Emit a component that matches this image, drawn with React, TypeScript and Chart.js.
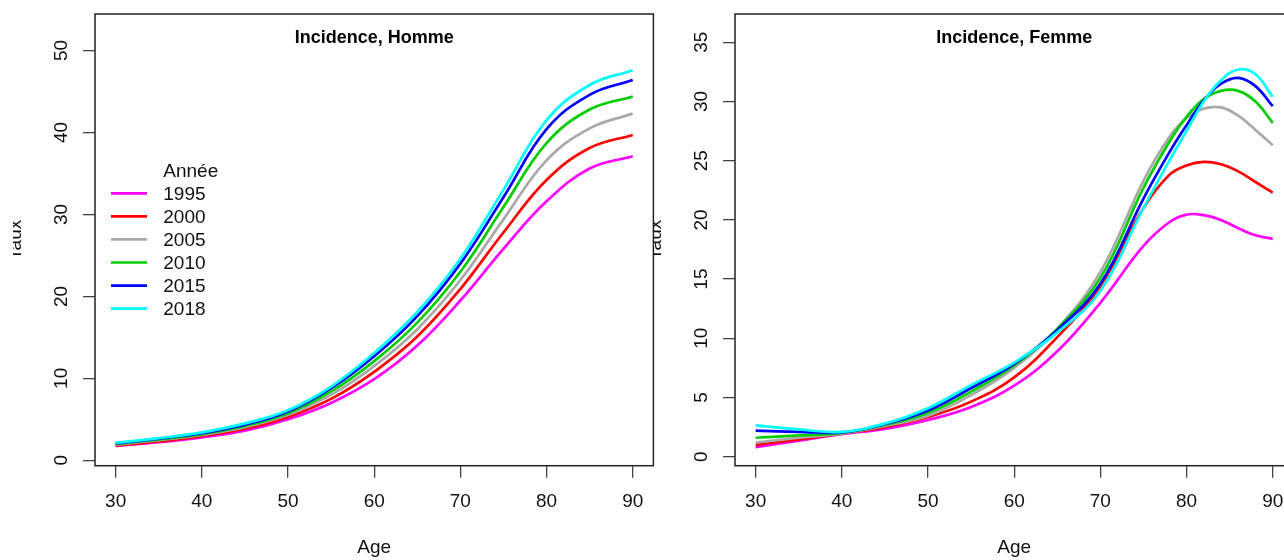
import React, { useEffect, useRef } from "react";
import { Chart, registerables } from "chart.js";

Chart.register(...registerables);

const FONT = '"Liberation Sans", Arial, Helvetica, sans-serif';

const YEARS = ["1995", "2000", "2005", "2010", "2015", "2018"];
const COLORS = ["#FF00FF", "#FF0000", "#A9A9A9", "#00CD00", "#0000FF", "#00FFFF"];

// Incidence, Homme
const AGES_H = [30, 35, 40, 45, 50, 55, 60, 65, 70, 75, 80, 85, 90];
const H_1995 = [1.75, 2.2, 2.8, 3.6, 5.0, 7.0, 9.9, 14.0, 19.5, 25.8, 31.6, 35.6, 37.1];
const H_2000 = [1.8, 2.3, 2.95, 3.85, 5.3, 7.5, 10.8, 15.1, 20.9, 27.8, 34.2, 38.1, 39.7];
const H_2005 = [1.9, 2.45, 3.1, 4.05, 5.55, 8.0, 11.5, 16.0, 22.0, 29.4, 36.6, 40.5, 42.3];
const H_2010 = [2.0, 2.55, 3.2, 4.2, 5.75, 8.4, 12.1, 16.8, 23.0, 30.9, 38.7, 42.8, 44.4];
const H_2015 = [2.05, 2.65, 3.3, 4.35, 5.95, 8.8, 12.7, 17.6, 24.0, 32.1, 40.4, 44.6, 46.4];
const H_2018 = [2.15, 2.7, 3.4, 4.5, 6.1, 9.0, 13.1, 18.1, 24.6, 33.0, 41.5, 45.8, 47.6];

// Incidence, Femme
const AGES_F = [30, 35, 40, 45, 50, 55, 60, 65, 70, 75, 78, 80, 82, 84, 86, 88, 90];
const F_1995 = [0.8, 1.35, 1.9, 2.35, 3.1, 4.2, 6.0, 8.9, 13.0, 17.8, 19.8, 20.45, 20.4, 20.0, 19.3, 18.7, 18.4];
const F_2000 = [1.0, 1.45, 1.95, 2.5, 3.35, 4.65, 6.7, 10.1, 14.4, 21.0, 23.8, 24.6, 24.9, 24.7, 24.1, 23.2, 22.3];
const F_2005 = [1.2, 1.6, 1.95, 2.6, 3.45, 5.2, 7.5, 10.8, 15.6, 23.3, 27.0, 28.6, 29.4, 29.5, 28.8, 27.6, 26.3];
const F_2010 = [1.6, 1.8, 2.0, 2.7, 3.7, 5.5, 7.7, 10.8, 15.1, 22.7, 26.6, 28.7, 30.2, 30.9, 30.9, 30.0, 28.2];
const F_2015 = [2.2, 2.1, 2.05, 2.75, 3.9, 5.8, 7.85, 10.7, 14.6, 21.8, 25.7, 28.0, 30.1, 31.5, 32.0, 31.3, 29.6];
const F_2018 = [2.65, 2.3, 2.1, 2.8, 4.1, 6.05, 7.95, 10.5, 14.0, 21.0, 25.0, 27.5, 30.0, 31.8, 32.7, 32.3, 30.4];

const X_TICKS = [30, 40, 50, 60, 70, 80, 90];
const Y_TICKS_H = [0, 10, 20, 30, 40, 50];
const Y_TICKS_F = [0, 5, 10, 15, 20, 25, 30, 35];

const X_RANGE = [27.6, 92.4];
const Y_RANGE_H = [-0.66, 54.46];
const Y_RANGE_F = [-0.76, 37.39];

const CANVAS_W = 660;
const CANVAS_H = 560;

const framePlugin = {
  id: "frame",
  beforeDraw(chart: any) {
    const ctx = chart.ctx;
    ctx.save();
    ctx.beginPath();
    ctx.rect(13, 0, chart.width, chart.height);
    ctx.clip();
  },
  afterDraw(chart: any, _args: any, opts: any) {
    const ctx = chart.ctx;
    const ca = chart.chartArea;
    ctx.save();
    ctx.strokeStyle = "#222";
    ctx.lineWidth = 1.5;
    ctx.strokeRect(ca.left, ca.top, ca.right - ca.left, ca.bottom - ca.top);

    ctx.fillStyle = "#000";
    ctx.font = `bold 18px ${FONT}`;
    ctx.textAlign = "center";
    ctx.textBaseline = "alphabetic";
    ctx.fillText(opts.title, (ca.left + ca.right) / 2, ca.top + 29.3);

    if (opts.legend) {
      const ds = chart.data.datasets;
      ctx.font = `19px ${FONT}`;
      ctx.textAlign = "left";
      ctx.textBaseline = "middle";
      ctx.fillStyle = "#111";
      ctx.fillText(opts.legendTitle, ca.left + 68.3, ca.top + 157.7);
      ds.forEach((d: any, i: number) => {
        const y = ca.top + 179.3 + i * 23.07;
        ctx.strokeStyle = d.borderColor;
        ctx.lineWidth = 2.7;
        ctx.beginPath();
        ctx.moveTo(ca.left + 16, y);
        ctx.lineTo(ca.left + 52, y);
        ctx.stroke();
        ctx.fillStyle = "#111";
        ctx.fillText(d.label, ca.left + 68.3, y + 1);
      });
    }
    ctx.restore();
    ctx.restore();
  },
};

function makeConfig(
  title: string,
  ages: number[],
  series: number[][],
  yRange: number[],
  yTicks: number[],
  legend: boolean
): any {
  const datasets = series.map((vals, i) => ({
    label: YEARS[i],
    data: ages.map((a, j) => ({ x: a, y: vals[j] })),
    borderColor: COLORS[i],
    backgroundColor: COLORS[i],
    borderWidth: 2.7,
    pointRadius: 0,
    fill: false,
    tension: 0.4,
    order: series.length - i,
  }));
  const grid = {
    display: true,
    drawOnChartArea: false,
    drawTicks: true,
    tickLength: 12,
    color: "#444",
    lineWidth: 1.3,
  };
  return {
    type: "line",
    data: { datasets },
    options: {
      animation: false,
      responsive: false,
      devicePixelRatio: 1,
      layout: { padding: { top: 14, right: 6.6, bottom: 0, left: 0 } },
      plugins: {
        legend: { display: false },
        tooltip: { enabled: false },
        frame: { title, legend, legendTitle: "Année" },
      },
      scales: {
        x: {
          type: "linear",
          min: X_RANGE[0],
          max: X_RANGE[1],
          afterBuildTicks: (s: any) => {
            s.ticks = X_TICKS.map((v) => ({ value: v }));
          },
          afterFit: (s: any) => {
            s.height = 94.3;
            s.paddingLeft = 0;
            s.paddingRight = 0;
          },
          grid,
          border: { display: false },
          ticks: {
            color: "#111",
            font: { size: 19, family: FONT },
            padding: 12.6,
            minRotation: 0,
            maxRotation: 0,
            autoSkip: false,
          },
          title: {
            display: true,
            text: "Age",
            color: "#111",
            font: { size: 19, family: FONT },
            padding: { top: 0, bottom: 1.2 },
          },
        },
        y: {
          type: "linear",
          min: yRange[0],
          max: yRange[1],
          afterBuildTicks: (s: any) => {
            s.ticks = yTicks.map((v) => ({ value: v }));
          },
          afterFit: (s: any) => {
            s.width = 95;
            s.paddingTop = 0;
            s.paddingBottom = 0;
          },
          grid,
          border: { display: false },
          ticks: {
            color: "#111",
            font: { size: 19, family: FONT },
            padding: 10.7,
            minRotation: 90,
            maxRotation: 90,
            crossAlign: "center",
            autoSkip: false,
          },
          title: {
            display: true,
            text: "Taux",
            color: "#111",
            font: { size: 19, family: FONT },
            padding: { top: 4.7, bottom: 0 },
          },
        },
      },
    },
    plugins: [framePlugin],
  };
}

function Panel({ left, build }: { left: number; build: () => any }) {
  const ref = useRef<HTMLCanvasElement | null>(null);
  useEffect(() => {
    if (!ref.current) return;
    const chart = new Chart(ref.current, build());
    return () => chart.destroy();
  }, []);
  return (
    <canvas
      ref={ref}
      width={CANVAS_W}
      height={CANVAS_H}
      style={{ position: "absolute", left, top: 0, width: CANVAS_W, height: CANVAS_H }}
    />
  );
}

export default function App() {
  return (
    <div
      style={{
        position: "fixed",
        left: 0,
        top: 0,
        width: 1284,
        height: 560,
        overflow: "hidden",
        background: "#fff",
      }}
    >
      <Panel
        left={0}
        build={() =>
          makeConfig(
            "Incidence, Homme",
            AGES_H,
            [H_1995, H_2000, H_2005, H_2010, H_2015, H_2018],
            Y_RANGE_H,
            Y_TICKS_H,
            true
          )
        }
      />
      <Panel
        left={640}
        build={() =>
          makeConfig(
            "Incidence, Femme",
            AGES_F,
            [F_1995, F_2000, F_2005, F_2010, F_2015, F_2018],
            Y_RANGE_F,
            Y_TICKS_F,
            false
          )
        }
      />
    </div>
  );
}
